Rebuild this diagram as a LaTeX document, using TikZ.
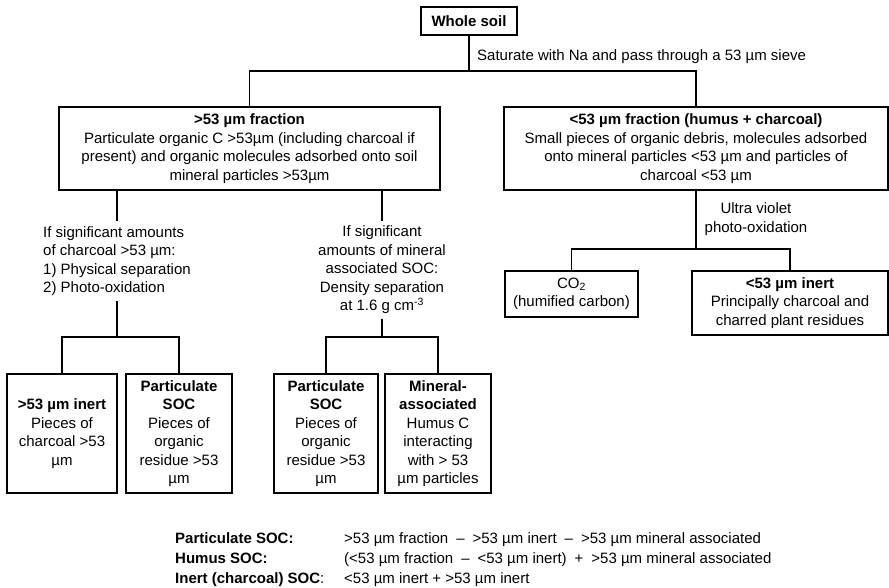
\documentclass[tikz,border=0pt]{standalone}
\usepackage{fontspec}
\setmainfont{Liberation Sans}

\begin{document}
\begin{tikzpicture}[
  x=1pt, y=-1pt,
  every node/.style={font=\fontsize{15}{18.5}\selectfont},
  box/.style={draw, line width=1.1pt, align=center, inner sep=0pt},
  lbl/.style={align=center, inner sep=5pt},
  link/.style={line width=1.1pt},
  leg/.style={anchor=base west, inner sep=0pt}
]
\useasboundingbox (0,0) rectangle (889,588);

% top of the tree
\node[box, minimum width=96, minimum height=28] (whole) at (469,21) {\textbf{Whole soil}};
\node[lbl, anchor=west] (sieve) at (472,57) {Saturate with Na and pass through a 53 µm sieve};
\coordinate (split) at (469,71);

\node[box, minimum width=381, minimum height=83] (coarse) at (249.5,148.5)
  {\textbf{>53 µm fraction}\\Particulate organic C >53µm (including charcoal if\\present) and organic molecules adsorbed onto soil\\mineral particles >53µm};
\node[box, minimum width=384, minimum height=83] (fine) at (696,148.5)
  {\textbf{<53 µm fraction (humus + charcoal)}\\Small pieces of organic debris, molecules adsorbed\\onto mineral particles <53 µm and particles of\\charcoal <53 µm};

\draw[link] (whole) -- (split);
\draw[link] (coarse) |- (split) -| (fine);

% >53 branch
\node[lbl, align=left] (cond1) at (117,261)
  {If significant amounts\\of charcoal >53 µm:\\1) Physical separation\\2) Photo-oxidation};
\node[lbl] (cond2) at (382,270)
  {If significant\\amounts of mineral\\associated SOC:\\Density separation\\at 1.6 g cm\textsuperscript{-3}};
\coordinate (fork1) at (117,337);
\coordinate (fork2) at (382,337);

\draw[link] (coarse.south -| cond1) -- (cond1);
\draw[link] (coarse.south -| cond2) -- (cond2);
\draw[link] (cond1) -- (fork1);
\draw[link] (cond2) -- (fork2);

\node[box, minimum width=110, minimum height=119] (inert1) at (62,433.5)
  {\textbf{>53 µm inert}\\Pieces of\\charcoal >53\\µm};
\node[box, minimum width=106, minimum height=119] (partic1) at (179,433.5)
  {\textbf{Particulate}\\\textbf{SOC}\\Pieces of\\organic\\residue >53\\µm};
\node[box, minimum width=104, minimum height=119] (partic2) at (326,433.5)
  {\textbf{Particulate}\\\textbf{SOC}\\Pieces of\\organic\\residue >53\\µm};
\node[box, minimum width=106, minimum height=119] (mineral) at (438,433.5)
  {\textbf{Mineral-}\\\textbf{associated}\\Humus C\\interacting\\with > 53\\µm particles};

\draw[link] (inert1) |- (fork1) -| (partic1);
\draw[link] (partic2) |- (fork2) -| (mineral);

% <53 branch
\coordinate (fork3) at (696,249);
\node[lbl] (uv) at (756,219) {Ultra violet\\photo-oxidation};
\draw[link] (fine) -- (fork3);

\node[box, minimum width=133, minimum height=46] (co2) at (571.5,294)
  {CO\textsubscript{2}\\(humified carbon)};
\node[box, minimum width=196, minimum height=64] (inert2) at (790,303)
  {\textbf{<53 µm inert}\\Principally charcoal and\\charred plant residues};

\draw[link] (co2) |- (fork3) -| (inert2);

% legend
\node[leg] (legA) at (175,543) {\textbf{Particulate SOC:}};
\node[leg] (legB) at (175,563) {\textbf{Humus SOC:}};
\node[leg] (legC) at (175,583) {\textbf{Inert (charcoal) SOC}:};
\node[leg] (defA) at (344,543) {>53 µm fraction\hspace{8pt}–\hspace{8pt}>53 µm inert\hspace{8pt}–\hspace{8pt}>53 µm mineral associated};
\node[leg] (defB) at (344,563) {(<53 µm fraction\hspace{8pt}–\hspace{8pt}<53 µm inert)\hspace{8pt}+\hspace{8pt}>53 µm mineral associated};
\node[leg] (defC) at (344,583) {<53 µm inert + >53 µm inert};
\end{tikzpicture}
\end{document}
